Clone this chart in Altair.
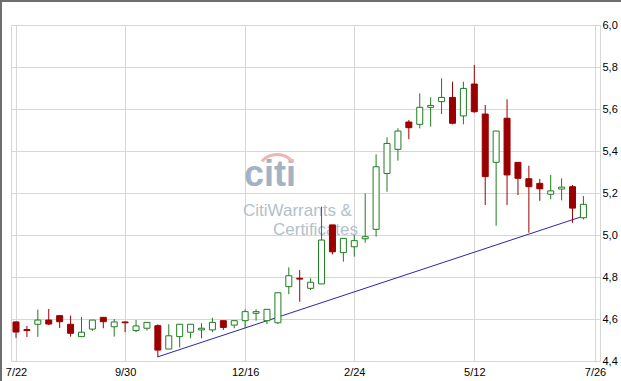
import altair as alt
import pandas as pd

# ---- data (weekly candles, week 0 = 7/22) ----
weeks = list(range(53))
opens = [4.586, 4.55, 4.575, 4.595, 4.616, 4.575, 4.516, 4.552, 4.608, 4.563,
         4.586, 4.545, 4.556, 4.568, 4.457, 4.516, 4.537, 4.548, 4.548, 4.592,
         4.571, 4.592, 4.627, 4.592, 4.582, 4.754, 4.794, 4.746, 4.767, 5.048,
         4.916, 4.944, 4.982, 5.027, 5.293, 5.408, 5.538, 5.527, 5.608, 5.635,
         5.655, 5.567, 5.719, 5.576, 5.346, 5.556, 5.346, 5.268, 5.246, 5.194,
         5.219, 5.23, 5.082]
highs = [4.59, 4.567, 4.645, 4.648, 4.616, 4.616, 4.61, 4.595, 4.608, 4.60,
         4.587, 4.595, 4.584, 4.575, 4.575, 4.575, 4.575, 4.58, 4.606, 4.592,
         4.592, 4.646, 4.646, 4.646, 4.725, 4.846, 4.833, 4.794, 5.135, 5.048,
         4.984, 5.0, 5.198, 5.384, 5.465, 5.508, 5.548, 5.675, 5.656, 5.746,
         5.73, 5.73, 5.81, 5.619, 5.495, 5.646, 5.346, 5.33, 5.267, 5.286,
         5.27, 5.238, 5.186]
lows = [4.51, 4.514, 4.515, 4.571, 4.557, 4.516, 4.516, 4.543, 4.556, 4.516,
        4.537, 4.537, 4.545, 4.418, 4.457, 4.465, 4.508, 4.508, 4.537, 4.548,
        4.556, 4.556, 4.592, 4.576, 4.576, 4.718, 4.682, 4.738, 4.767, 4.908,
        4.873, 4.897, 4.963, 4.992, 5.206, 5.354, 5.456, 5.508, 5.516, 5.576,
        5.527, 5.527, 5.582, 5.143, 5.044, 5.143, 5.19, 5.011, 5.163, 5.17,
        5.165, 5.058, 5.074]
closes = [4.538, 4.545, 4.595, 4.576, 4.587, 4.532, 4.537, 4.595, 4.587, 4.586,
          4.582, 4.567, 4.584, 4.452, 4.52, 4.575, 4.575, 4.556, 4.584, 4.56,
          4.592, 4.635, 4.635, 4.646, 4.725, 4.806, 4.79, 4.775, 4.976, 4.92,
          4.984, 4.973, 4.992, 5.325, 5.436, 5.495, 5.511, 5.608, 5.617, 5.655,
          5.532, 5.698, 5.587, 5.278, 5.495, 5.286, 5.27, 5.23, 5.22, 5.21,
          5.228, 5.128, 5.146]

tick_weeks = [0, 10, 21, 31, 42, 53.06]
tick_labels = ["7/22", "9/30", "12/16", "2/24", "5/12", "7/26"]
y_ticks = [4.4, 4.6, 4.8, 5.0, 5.2, 5.4, 5.6, 5.8, 6.0]

trend_weeks = [13, 52]
trend_values = [4.42, 5.09]

GREEN = "#1e7d1e"
RED = "#9b0000"
GRID = "#d6d6d6"

df = pd.DataFrame({"week": weeks, "open": opens, "high": highs, "low": lows, "close": closes})
df["dir"] = ["up" if c >= o else "down" for o, c in zip(opens, closes)]
trend_df = pd.DataFrame({"week": trend_weeks, "value": trend_values})

label_expr = " : ".join(
    [f"datum.value == {w} ? '{l}'" for w, l in zip(tick_weeks, tick_labels)]
) + " : ''"

x_enc = alt.X(
    "week:Q",
    scale=alt.Scale(domain=[0, 53.06], nice=False, zero=False),
    axis=alt.Axis(values=tick_weeks, labelExpr=label_expr, grid=True, gridColor=GRID,
                  domain=False, ticks=False, labelFlush=True, labelPadding=5,
                  title=None),
)

def y_enc(field):
    return alt.Y(
        f"{field}:Q",
        scale=alt.Scale(domain=[4.4, 6.0], nice=False, zero=False),
        axis=alt.Axis(orient="right", values=y_ticks,
                      labelExpr="replace(format(datum.value, '.1f'), '.', ',')",
                      grid=True, gridColor=GRID, domain=False, ticks=False,
                      labelPadding=2, title=None),
    )

dummy = pd.DataFrame({"a": [0]})

citi = alt.Chart(dummy).mark_text(
    text="citi", font="Liberation Sans", fontWeight="bold", fontSize=36,
    color="#a3b2c4", align="left", baseline="alphabetic"
).encode(x=alt.value(233), y=alt.value(161))

arc = alt.Chart(dummy).mark_arc(
    theta=5.45, theta2=7.15, radius=22, radius2=19, color="#f1b3b3"
).encode(x=alt.value(266), y=alt.value(150))

wm1 = alt.Chart(dummy).mark_text(
    text="CitiWarrants &", font="Liberation Sans", fontSize=17,
    color="#b3bfcd", align="left", baseline="alphabetic"
).encode(x=alt.value(232), y=alt.value(191))

wm2 = alt.Chart(dummy).mark_text(
    text="Certificates", font="Liberation Sans", fontSize=17,
    color="#b3bfcd", align="left", baseline="alphabetic"
).encode(x=alt.value(262), y=alt.value(210))

trend = alt.Chart(trend_df).mark_line(color="#2626b3", strokeWidth=1).encode(
    x=x_enc, y=y_enc("value")
)

wicks = alt.Chart(df).mark_rule(strokeWidth=1).encode(
    x=x_enc,
    y=y_enc("low"),
    y2="high:Q",
    color=alt.Color("dir:N", scale=alt.Scale(domain=["up", "down"], range=[GREEN, RED]), legend=None),
)

bodies = alt.Chart(df).mark_bar(size=6, strokeWidth=1).encode(
    x=x_enc,
    y=y_enc("open"),
    y2="close:Q",
    fill=alt.Fill("dir:N", scale=alt.Scale(domain=["up", "down"], range=["#ffffff", RED]), legend=None),
    stroke=alt.Stroke("dir:N", scale=alt.Scale(domain=["up", "down"], range=[GREEN, RED]), legend=None),
)

border_top = alt.Chart(dummy).mark_rule(color="#6e6e6e", strokeWidth=2).encode(
    x=alt.value(-11), x2=alt.value(610), y=alt.value(-24)
)
border_left = alt.Chart(dummy).mark_rule(color="#6e6e6e", strokeWidth=2).encode(
    x=alt.value(-10), y=alt.value(-25), y2=alt.value(356)
)

chart = alt.layer(
    citi, arc, wm1, wm2, trend, wicks, bodies, border_top, border_left
).resolve_scale(
    color="independent", fill="independent", stroke="independent"
).properties(
    width=589, height=336,
    autosize="none",
    padding={"left": 11, "top": 25, "right": 21, "bottom": 20},
    background="white",
).configure_view(
    stroke=GRID
).configure_axis(
    labelFont="Liberation Sans", labelFontSize=11, labelColor="#000000"
)

chart.save("out.html", embed_options={"renderer": "svg", "actions": False})
